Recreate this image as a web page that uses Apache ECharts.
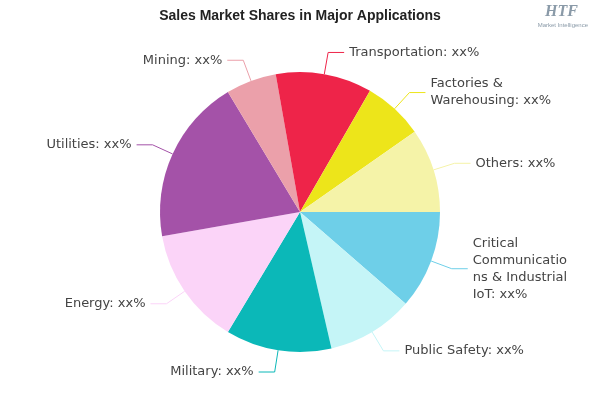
<!DOCTYPE html>
<html><head><meta charset="utf-8">
<script src="https://cdn.jsdelivr.net/npm/echarts@6/dist/echarts.min.js"></script>
<style>html,body{margin:0;background:#fff}#c{width:600px;height:400px}</style>
</head><body><div id="c"></div>
<script>
const categories = ["Critical\nCommunicatio\nns & Industrial\nIoT", "Public Safety", "Military", "Energy", "Utilities", "Mining", "Transportation", "Factories &\nWarehousing", "Others"];
const values = [41, 36, 44, 49, 69, 21, 40, 25, 35];
const colors = ["#6ECFE8", "#C5F5F7", "#0BB8B8", "#FBD4F8", "#A452A8", "#EBA0AA", "#EE2449", "#EDE51A", "#F5F3A8"];
const chart = echarts.init(document.getElementById('c'));
chart.setOption({
  animation: false,
  title: {text: 'Sales Market Shares in Major Applications', left: 'center', top: 4,
    textStyle: {fontFamily: 'Liberation Sans Narrow, Liberation Sans', fontSize: 14, fontWeight: 'bold', color: '#222'}},
  graphic: [{type: 'text', right: 22, top: 4, style: {text: 'HTF', font: 'italic bold 16px Liberation Serif', fill: '#8a9aa8'}},
            {type: 'text', right: 12, top: 22, style: {text: 'Market Intelligence', font: '6px Liberation Sans', fill: '#8a9aa8'}}],
  series: [{
    type: 'pie', center: [300, 212], radius: 140, startAngle: 0, clockwise: true,
    data: categories.map((n, i) => ({name: n, value: values[i], itemStyle: {color: colors[i]}, labelLine: {lineStyle: {color: colors[i]}}})),
    label: {formatter: '{b}: xx%', color: '#444', fontSize: 13, fontFamily: 'DejaVu Sans', lineHeight: 17},
    labelLine: {length: 22, length2: 16}
  }]
});
</script></body></html>
